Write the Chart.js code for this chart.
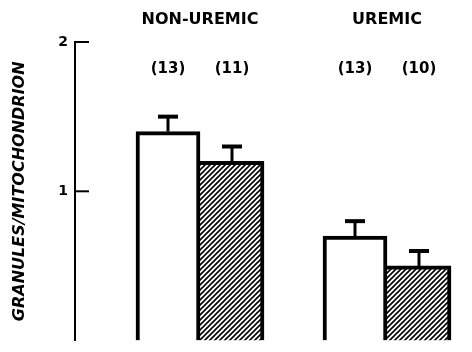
<!DOCTYPE html>
<html>
<head>
<meta charset="utf-8">
<script src="https://cdn.jsdelivr.net/npm/chart.js@4"></script>
<style>
  html, body { margin: 0; padding: 0; background: #fff; overflow: hidden; }
  canvas { display: block; }
</style>
</head>
<body>
<canvas id="chart" width="472" height="356"></canvas>
<script>
// data
const categories = ['NON-UREMIC', 'UREMIC'];
const groupPos = [1, 2];
const openMeans = [1.40, 0.70];
const openSE = [0.10, 0.10];
const openN = [13, 13];
const hatchMeans = [1.20, 0.50];
const hatchSE = [0.10, 0.10];
const hatchN = [11, 10];
const yTicks = [1, 2];

const FONT = '"DejaVu Sans", sans-serif';

// diagonal hatch fill
function makeHatch() {
    const c = document.createElement('canvas');
    c.width = 5; c.height = 5;
    const g = c.getContext('2d');
    g.fillStyle = '#fff';
    g.fillRect(0, 0, 5, 5);
    g.strokeStyle = '#000';
    g.lineWidth = 1.6;
    g.beginPath();
    g.moveTo(-1, 6); g.lineTo(6, -1);
    g.moveTo(-1, 1); g.lineTo(1, -1);
    g.moveTo(4, 6); g.lineTo(6, 4);
    g.stroke();
    return g.createPattern(c, 'repeat');
}

const errSets = [openSE, hatchSE];
const nSets = [openN, hatchN];

// error bars, counts and inward y ticks
const extrasPlugin = {
    id: 'extras',
    afterDatasetsDraw(chart) {
        const ctx = chart.ctx;
        const y = chart.scales.y;
        const area = chart.chartArea;
        ctx.save();
        ctx.strokeStyle = '#000';
        ctx.fillStyle = '#000';
        chart.data.datasets.forEach((ds, i) => {
            const meta = chart.getDatasetMeta(i);
            meta.data.forEach((bar, j) => {
                const top = y.getPixelForValue(ds.data[j].y + errSets[i][j]);
                ctx.lineWidth = 3;
                ctx.beginPath();
                ctx.moveTo(bar.x, bar.y);
                ctx.lineTo(bar.x, top);
                ctx.stroke();
                ctx.lineWidth = 4;
                ctx.beginPath();
                ctx.moveTo(bar.x - 10, top);
                ctx.lineTo(bar.x + 10, top);
                ctx.stroke();

                ctx.font = 'bold 15px ' + FONT;
                ctx.textAlign = 'center';
                ctx.textBaseline = 'middle';
                ctx.fillText('(' + nSets[i][j] + ')', bar.x, area.top + 27);
            });
        });
        ctx.lineWidth = 2;
        yTicks.forEach(v => {
            const py = y.getPixelForValue(v);
            ctx.beginPath();
            ctx.moveTo(area.left, py);
            ctx.lineTo(area.left + 14, py);
            ctx.stroke();
        });
        ctx.restore();
    }
};

const ctx = document.getElementById('chart').getContext('2d');
new Chart(ctx, {
    type: 'bar',
    data: {
        datasets: [
            {
                label: 'Open',
                data: groupPos.map((p, i) => ({ x: p, y: openMeans[i] })),
                backgroundColor: '#fff',
                borderColor: '#000',
                borderWidth: { top: 4, left: 4, right: 4, bottom: 0 },
                barThickness: 64
            },
            {
                label: 'Hatched',
                data: groupPos.map((p, i) => ({ x: p, y: hatchMeans[i] })),
                backgroundColor: makeHatch(),
                borderColor: '#000',
                borderWidth: { top: 4, left: 0, right: 4, bottom: 0 },
                barThickness: 64
            }
        ]
    },
    options: {
        responsive: false,
        animation: false,
        layout: { padding: { top: 0, right: 0, bottom: 2, left: 0 } },
        plugins: {
            legend: { display: false },
            tooltip: { enabled: false }
        },
        scales: {
            x: {
                type: 'linear',
                position: 'top',
                offset: false,
                min: 0.3316,
                max: 2.4545,
                grid: { display: false, drawTicks: false, offset: false },
                border: { display: false },
                afterBuildTicks: s => { s.ticks = groupPos.map(v => ({ value: v })); },
                afterFit: s => {
                    s.height = 42;
                    s.paddingLeft = 0;
                    s.paddingRight = 0;
                },
                ticks: {
                    callback: (v, i) => categories[i],
                    color: '#000',
                    padding: 13,
                    maxRotation: 0,
                    font: { family: FONT, size: 16, weight: 'bold' }
                }
            },
            y: {
                min: 0,
                max: 2,
                grid: { display: false, drawTicks: false },
                border: { display: true, color: '#000', width: 2 },
                afterBuildTicks: s => { s.ticks = yTicks.map(v => ({ value: v })); },
                afterFit: s => { s.width = 75; },
                ticks: {
                    color: '#000',
                    padding: 7,
                    font: { family: FONT, size: 14, weight: 'bold' }
                },
                title: {
                    display: true,
                    text: 'GRANULES/MITOCHONDRION',
                    color: '#000',
                    padding: { top: 10, bottom: 0 },
                    font: { family: FONT, size: 16, weight: 'bold', style: 'italic' }
                }
            }
        }
    },
    plugins: [extrasPlugin]
});
</script>
</body>
</html>
